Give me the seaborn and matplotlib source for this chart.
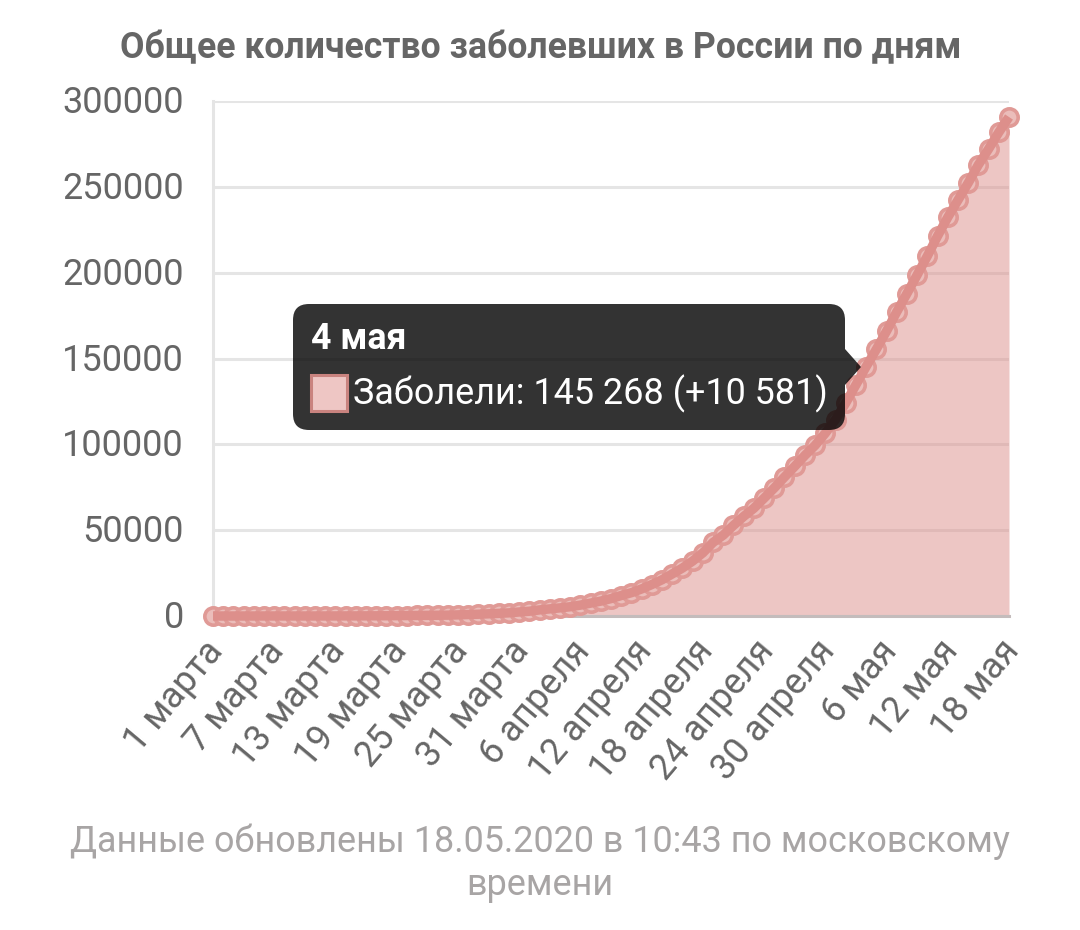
import matplotlib
matplotlib.use("Agg")
import matplotlib.pyplot as plt
from matplotlib.patches import FancyBboxPatch, Polygon, Rectangle
from matplotlib.transforms import ScaledTranslation
import pandas as pd
import seaborn as sns

# total cases per day, 1 march .. 18 may
march = [2, 3, 3, 3, 4, 13, 13, 17, 17, 20, 20, 28, 45, 59, 63, 93, 114, 147, 199, 253, 306, 367, 438, 495, 658, 840, 1036, 1264, 1534, 1836, 2337]
april = [2777, 3548, 4149, 4731, 5389, 6343, 7497, 8672, 10131, 11917, 13584, 15770, 18328, 21102, 24490, 27938, 32008, 36793, 42853, 47121, 52763, 57999, 62773, 68622, 74588, 80949, 87147, 93558, 99399, 106498]
may = [114431, 124054, 134687, 145268, 155370, 165929, 177160, 187859, 198676, 209688, 221344, 232243, 242271, 252245, 262843, 272043, 281752, 290678]
cases = march + april + may
tick_labels = ["1 марта", "7 марта", "13 марта", "19 марта", "25 марта", "31 марта", "6 апреля",
               "12 апреля", "18 апреля", "24 апреля", "30 апреля", "6 мая", "12 мая", "18 мая"]
y_ticks = [0, 50000, 100000, 150000, 200000, 250000, 300000]

sns.set_theme(style="white")
plt.rcParams["font.family"] = ["Roboto", "DejaVu Sans"]

W, H = 1080, 930
fig = plt.figure(figsize=(W / 100, H / 100), dpi=100)
ax = fig.add_axes([213 / W, 1 - 616 / H, (1009 - 213) / W, (616 - 101) / H])

df = pd.DataFrame({"day": range(len(cases)), "cases": cases})

# area first, then the dots, then the thick line over the dots
ax.fill_between(df["day"], df["cases"], 0, color="#dc8f8b", alpha=0.5, lw=0, zorder=2)
sns.lineplot(data=df, x="day", y="cases", ax=ax, lw=0, zorder=3,
             marker="o", markersize=12.5, markerfacecolor="#ebbdba", markeredgecolor="#e09a96",
             markeredgewidth=2.6, clip_on=False)
sns.lineplot(data=df, x="day", y="cases", ax=ax, color="#dd8f8b", lw=6.8, zorder=4,
             solid_capstyle="butt", clip_on=False)

ax.set_xlim(0, len(cases) - 1)
ax.set_ylim(0, 300000)
ax.set_xlabel("")
ax.set_ylabel("")
ax.set_yticks(y_ticks)
ax.set_yticklabels([str(v) for v in y_ticks])
ax.set_xticks(range(0, len(cases), 6))
ax.set_xticklabels(tick_labels, rotation=50, ha="right", rotation_mode="anchor")
ax.tick_params(axis="y", labelsize=26, labelcolor="#666666", length=20, width=2.2, color="#e5e5e5", pad=1)
ax.tick_params(axis="x", labelsize=26, labelcolor="#666666", length=0, pad=14)
ax.grid(axis="y", color="#e5e5e5", lw=2.2, zorder=1)
ax.set_axisbelow(True)
for side in ["top", "right"]:
    ax.spines[side].set_visible(False)
ax.spines["left"].set_color("#e5e5e5")
ax.spines["left"].set_linewidth(2.2)
ax.spines["bottom"].set_color("#c4bcbc")
ax.spines["bottom"].set_linewidth(2.2)
ax.yaxis.get_major_ticks()[0].tick1line.set_color("#c4bcbc")

# nudge the tick labels to where they sit in the original
shift_x = ScaledTranslation(-10 / 100, 2 / 100, fig.dpi_scale_trans)
shift_y = ScaledTranslation(0, 2 / 100, fig.dpi_scale_trans)
for lab in ax.get_xticklabels():
    lab.set_transform(lab.get_transform() + shift_x)
for lab in ax.get_yticklabels():
    lab.set_transform(lab.get_transform() + shift_y)

fig.text(541 / W, 1 - 48 / H, "Общее количество заболевших в России по дням", ha="center", va="center",
         fontsize=25.7, fontweight="bold", color="#666666")
fig.text(540 / W, 1 - 863 / H, "Данные обновлены 18.05.2020 в 10:43 по московскому\nвремени", ha="center", va="center",
         fontsize=25.9, color="#a8a5a5", linespacing=1.25)


# tooltip for 4 may, positions given in pixels from the top left
def to_fig(x, y):
    return x / W, 1 - y / H


tip_color = (0.0, 0.0, 0.0, 0.8)
box = FancyBboxPatch((303 / W, 1 - 420 / H), 532 / W, 106 / H, transform=fig.transFigure,
                     fc=tip_color, ec="none", zorder=10)
box.set_boxstyle("round", pad=10 / W, rounding_size=16 / W)
box.set_mutation_aspect(W / H)
fig.add_artist(box)
fig.add_artist(Polygon([to_fig(845, 349), to_fig(861, 367), to_fig(845, 385)], closed=True,
                       transform=fig.transFigure, fc=tip_color, ec="none", zorder=10))
fig.add_artist(Rectangle(to_fig(311, 411), 36 / W, 36 / H, transform=fig.transFigure,
                         fc="#eec6c4", ec="#c9837f", lw=2.2, zorder=11))
fig.text(311 / W, 1 - 339 / H, "4 мая", ha="left", va="center", fontsize=25.7, fontweight="bold", color="white", zorder=12)
fig.text(353 / W, 1 - 394 / H, "Заболели: 145 268 (+10 581)", ha="left", va="center", fontsize=25.9, color="white", zorder=12)

fig.savefig("out.png", dpi=100)
